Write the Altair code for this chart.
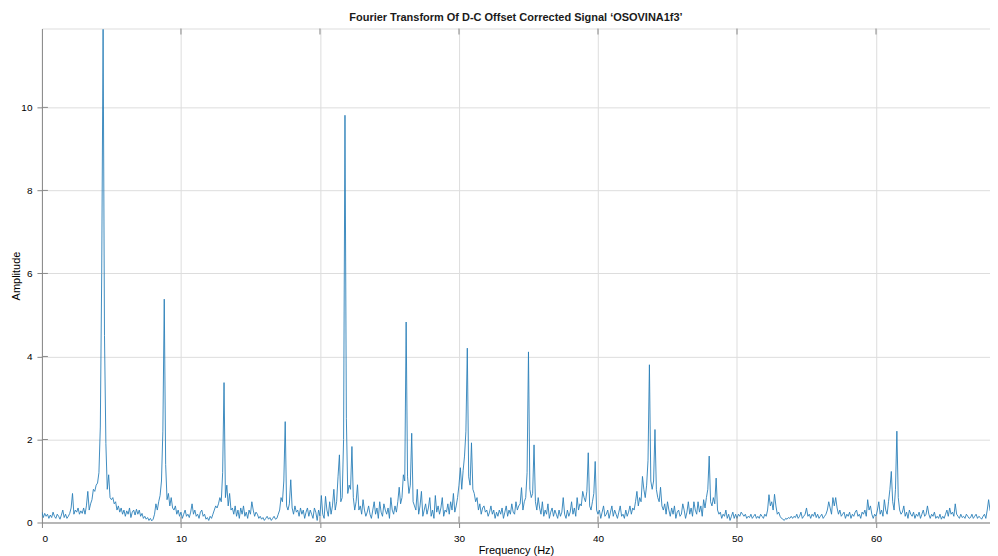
import altair as alt
import pandas as pd

# Amplitude spectrum, 0.1 Hz resolution.
# Each row holds the ten samples i.0 ... i.9 Hz.
AMP_BY_HZ = [
    [0.25, 0.12, 0.22, 0.15, 0.2, 0.1, 0.18, 0.12, 0.25, 0.15],   # 0
    [0.1, 0.2, 0.15, 0.08, 0.18, 0.3, 0.12, 0.2, 0.1, 0.15],      # 1
    [0.22, 0.35, 0.7, 0.2, 0.3, 0.25, 0.35, 0.2, 0.28, 0.22],     # 2
    [0.35, 0.2, 0.4, 0.75, 0.3, 0.45, 0.55, 0.8, 0.75, 0.9],      # 3
    [0.95, 1.2, 2.3, 6.0, 11.88, 4.5, 1.9, 0.8, 1.15, 0.6],       # 4
    [0.55, 0.6, 0.45, 0.5, 0.3, 0.4, 0.25, 0.35, 0.2, 0.3],       # 5
    [0.15, 0.28, 0.2, 0.35, 0.12, 0.25, 0.3, 0.18, 0.32, 0.2],    # 6
    [0.3, 0.15, 0.22, 0.1, 0.15, 0.08, 0.12, 0.05, 0.1, 0.04],    # 7
    [0.08, 0.2, 0.45, 0.3, 0.5, 0.65, 1.0, 2.2, 5.38, 1.4],       # 8
    [0.55, 0.7, 0.4, 0.6, 0.35, 0.3, 0.4, 0.2, 0.3, 0.15],        # 9
    [0.25, 0.1, 0.2, 0.3, 0.15, 0.2, 0.12, 0.25, 0.45, 0.2],      # 10
    [0.3, 0.15, 0.2, 0.1, 0.25, 0.3, 0.15, 0.2, 0.08, 0.12],      # 11
    [0.05, 0.15, 0.1, 0.2, 0.3, 0.4, 0.35, 0.45, 0.6, 0.5],       # 12
    [1.2, 3.37, 0.6, 0.9, 0.4, 0.7, 0.3, 0.35, 0.2, 0.4],         # 13
    [0.15, 0.3, 0.1, 0.35, 0.2, 0.4, 0.15, 0.25, 0.1, 0.3],       # 14
    [0.2, 0.5, 0.3, 0.15, 0.25, 0.2, 0.1, 0.15, 0.08, 0.12],      # 15
    [0.05, 0.1, 0.15, 0.08, 0.12, 0.05, 0.1, 0.15, 0.08, 0.1],    # 16
    [0.2, 0.3, 0.6, 0.5, 1.0, 2.43, 0.4, 0.3, 0.45, 1.03],        # 17
    [0.35, 0.2, 0.4, 0.25, 0.3, 0.15, 0.35, 0.2, 0.3, 0.1],       # 18
    [0.25, 0.35, 0.15, 0.3, 0.2, 0.1, 0.35, 0.25, 0.05, 0.3],     # 19
    [0.15, 0.65, 0.2, 0.1, 0.63, 0.3, 0.15, 0.5, 0.2, 0.4],       # 20
    [0.8, 0.3, 0.5, 1.1, 1.63, 0.5, 0.6, 2.0, 9.81, 2.5],         # 21
    [0.7, 0.9, 0.8, 1.83, 0.6, 0.3, 0.5, 0.91, 0.3, 0.4],         # 22
    [0.2, 0.55, 0.3, 0.15, 0.25, 0.4, 0.2, 0.1, 0.3, 0.5],        # 23
    [0.2, 0.35, 0.1, 0.5, 0.25, 0.15, 0.45, 0.3, 0.2, 0.35],      # 24
    [0.1, 0.6, 0.3, 0.2, 0.4, 0.25, 0.5, 0.85, 0.45, 0.6],        # 25
    [1.15, 1.0, 4.83, 1.1, 0.7, 0.9, 2.15, 0.5, 0.4, 0.3],        # 26
    [0.8, 0.2, 0.4, 0.75, 0.15, 0.3, 0.45, 0.2, 0.35, 0.6],       # 27
    [0.15, 0.3, 0.1, 0.65, 0.25, 0.4, 0.2, 0.35, 0.6, 0.15],      # 28
    [0.3, 0.25, 0.45, 0.2, 0.5, 0.3, 0.7, 0.25, 0.4, 0.6],        # 29
    [0.9, 1.32, 0.8, 1.25, 1.6, 2.2, 4.2, 1.1, 0.9, 1.92],        # 30
    [0.8, 0.7, 0.5, 0.6, 0.3, 0.45, 0.2, 0.35, 0.4, 0.25],        # 31
    [0.3, 0.15, 0.25, 0.4, 0.2, 0.3, 0.1, 0.25, 0.15, 0.3],       # 32
    [0.2, 0.35, 0.1, 0.25, 0.4, 0.15, 0.3, 0.2, 0.45, 0.25],      # 33
    [0.2, 0.5, 0.3, 0.4, 0.45, 0.84, 0.3, 0.5, 0.6, 1.2],         # 34
    [4.11, 0.8, 0.6, 0.7, 1.87, 0.5, 0.3, 0.6, 0.35, 0.2],        # 35
    [0.5, 0.15, 0.3, 0.2, 0.45, 0.1, 0.25, 0.35, 0.15, 0.3],      # 36
    [0.2, 0.1, 0.3, 0.15, 0.25, 0.6, 0.2, 0.1, 0.3, 0.15],        # 37
    [0.25, 0.5, 0.2, 0.35, 0.15, 0.6, 0.3, 0.45, 0.4, 0.75],      # 38
    [0.6, 0.5, 0.75, 1.68, 0.4, 0.3, 0.5, 0.7, 1.47, 0.3],        # 39
    [0.2, 0.3, 0.1, 0.25, 0.4, 0.15, 0.2, 0.3, 0.1, 0.25],        # 40
    [0.4, 0.15, 0.3, 0.2, 0.1, 0.25, 0.4, 0.15, 0.2, 0.1],        # 41
    [0.3, 0.15, 0.25, 0.4, 0.2, 0.35, 0.3, 0.5, 0.75, 0.4],       # 42
    [0.6, 0.5, 1.11, 0.8, 0.6, 0.9, 1.5, 3.8, 1.0, 0.8],          # 43
    [1.0, 2.24, 0.8, 0.6, 0.5, 0.85, 0.4, 0.3, 0.45, 0.2],        # 44
    [0.5, 0.3, 0.15, 0.35, 0.2, 0.4, 0.1, 0.25, 0.3, 0.15],       # 45
    [0.2, 0.45, 0.3, 0.1, 0.25, 0.5, 0.2, 0.35, 0.15, 0.5],       # 46
    [0.3, 0.2, 0.5, 0.25, 0.4, 0.15, 0.55, 0.35, 0.6, 0.8],       # 47
    [1.6, 0.5, 0.4, 0.6, 0.45, 1.07, 0.3, 0.2, 0.25, 0.1],        # 48
    [0.2, 0.15, 0.3, 0.1, 0.2, 0.05, 0.15, 0.25, 0.1, 0.2],       # 49
    [0.1, 0.2, 0.15, 0.25, 0.2, 0.15, 0.2, 0.1, 0.15, 0.12],      # 50
    [0.2, 0.1, 0.15, 0.2, 0.1, 0.15, 0.1, 0.2, 0.15, 0.1],        # 51
    [0.2, 0.15, 0.3, 0.67, 0.4, 0.5, 0.3, 0.68, 0.4, 0.2],        # 52
    [0.25, 0.15, 0.1, 0.08, 0.05, 0.1, 0.08, 0.12, 0.1, 0.15],    # 53
    [0.1, 0.15, 0.12, 0.2, 0.1, 0.15, 0.25, 0.1, 0.15, 0.2],      # 54
    [0.35, 0.15, 0.2, 0.1, 0.2, 0.15, 0.25, 0.12, 0.2, 0.1],      # 55
    [0.15, 0.2, 0.1, 0.15, 0.2, 0.3, 0.5, 0.35, 0.2, 0.6],        # 56
    [0.4, 0.6, 0.35, 0.2, 0.3, 0.15, 0.2, 0.25, 0.1, 0.2],        # 57
    [0.15, 0.25, 0.1, 0.2, 0.15, 0.25, 0.3, 0.15, 0.2, 0.1],      # 58
    [0.25, 0.2, 0.3, 0.15, 0.55, 0.3, 0.4, 0.2, 0.1, 0.2],        # 59
    [0.15, 0.3, 0.5, 0.2, 0.3, 0.15, 0.55, 0.3, 0.2, 0.5],        # 60
    [0.8, 1.23, 0.5, 0.3, 0.8, 2.2, 0.6, 0.3, 0.2, 0.25],         # 61
    [0.4, 0.15, 0.25, 0.1, 0.3, 0.2, 0.15, 0.25, 0.1, 0.2],       # 62
    [0.15, 0.25, 0.1, 0.2, 0.3, 0.15, 0.2, 0.4, 0.2, 0.1],        # 63
    [0.2, 0.15, 0.25, 0.1, 0.15, 0.1, 0.2, 0.08, 0.15, 0.1],      # 64
    [0.2, 0.3, 0.15, 0.35, 0.2, 0.25, 0.15, 0.45, 0.2, 0.15],     # 65
    [0.1, 0.2, 0.12, 0.15, 0.1, 0.2, 0.15, 0.1, 0.12, 0.2],       # 66
    [0.1, 0.15, 0.2, 0.1, 0.15, 0.12, 0.08, 0.15, 0.2, 0.1],      # 67
    [0.3, 0.55, 0.3, 0.2, 0.15, 0.3],                             # 68
]
FREQ_STEP_HZ = 0.1
X_TICKS = [0, 10, 20, 30, 40, 50, 60]
Y_TICKS = [0, 2, 4, 6, 8, 10]
X_MAX = 68.2
Y_MAX = 11.9

amp = [v for row in AMP_BY_HZ for v in row]
freq = [round(i * FREQ_STEP_HZ, 1) for i in range(len(amp))]
df = pd.DataFrame({"freq": freq, "amp": amp})

W, H = 950, 495
FONT = "Liberation Sans"

xs = alt.Scale(domain=[0, X_MAX], nice=False, zero=False)
ys = alt.Scale(domain=[0, Y_MAX], nice=False)

line = alt.Chart(df).mark_line(color="#2a80b9", strokeWidth=0.9, clip=True).encode(
    x=alt.X("freq:Q", scale=xs,
            axis=alt.Axis(title="Frequency (Hz)", values=X_TICKS, format="d",
                          labelPadding=6, titlePadding=1, titleFontWeight=400)),
    y=alt.Y("amp:Q", scale=ys,
            axis=alt.Axis(title="Amplitude", values=Y_TICKS, format="d",
                          labelPadding=5, titleFontWeight=400,
                          titleX=-25, titleY=H / 2, titleAngle=270,
                          titleBaseline="middle", titleAlign="center")),
)

xt = pd.DataFrame({"t": X_TICKS[1:]})
yt = pd.DataFrame({"t": Y_TICKS[1:]})
tick_style = dict(color="#8a8a8a", strokeWidth=1)
xticks_bottom = alt.Chart(xt).mark_rule(**tick_style).encode(
    x=alt.X("t:Q", scale=xs), y=alt.value(H), y2=alt.value(H - 6))
xticks_top = alt.Chart(xt).mark_rule(**tick_style).encode(
    x=alt.X("t:Q", scale=xs), y=alt.value(0), y2=alt.value(6))
yticks_left = alt.Chart(yt).mark_rule(**tick_style).encode(
    y=alt.Y("t:Q", scale=ys), x=alt.value(0), x2=alt.value(6))

chart = (
    alt.layer(line, xticks_bottom, xticks_top, yticks_left)
    .properties(
        width=W, height=H,
        title=alt.TitleParams(
            "Fourier Transform Of D-C Offset Corrected Signal \u2018OSOVINA1f3\u2019",
            font=FONT, fontSize=11, fontWeight="bold", color="#1a1a1a",
            anchor="middle", offset=5),
        autosize=alt.AutoSizeParams(type="none"),
        padding={"left": 34, "top": 20, "right": 0, "bottom": 36},
    )
    .configure_view(stroke="#9a9a9a", strokeWidth=1)
    .configure_axis(
        labelFont=FONT, labelFontSize=11, labelColor="#4a4a4a",
        titleFont=FONT, titleFontSize=11, titleColor="#3a3a3a",
        domainColor="#8a8a8a", ticks=False,
        gridColor="#e6e6e6", gridWidth=1,
    )
    .configure(background="white")
)

chart.save("out.html", embed_options={"renderer": "svg", "actions": False})
